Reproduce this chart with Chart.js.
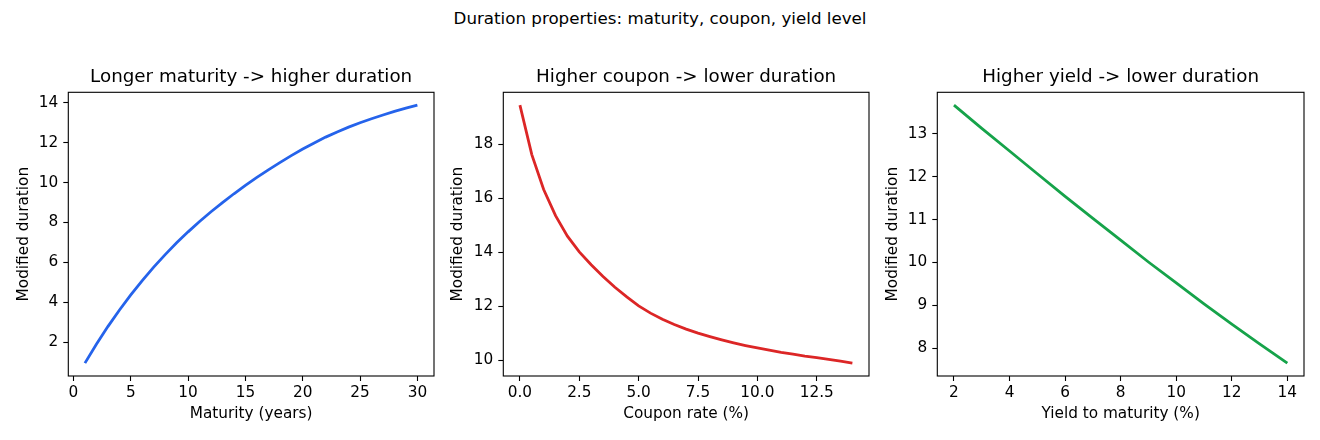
<!DOCTYPE html>
<html>
<head>
<meta charset="utf-8">
<script src="https://cdn.jsdelivr.net/npm/chart.js@4.4.1/dist/chart.umd.min.js"></script>
<style>
  body { margin: 0; background: #fff; width: 1320px; height: 440px; position: relative; overflow: hidden; font-family: "DejaVu Sans", sans-serif; }
  #suptitle { position: absolute; left: 0; top: 8px; width: 1320px; text-align: center; font-size: 16.7px; line-height: 20px; color: #000; }
  .panel { position: absolute; top: 0; }
  .axtitle { position: absolute; top: 66px; text-align: center; font-size: 18.3px; line-height: 20px; color: #000; white-space: nowrap; }
</style>
</head>
<body>
<div id="suptitle">Duration properties: maturity, coupon, yield level</div>
<canvas id="chart1" class="panel" width="444" height="440" style="left:0px"></canvas>
<canvas id="chart2" class="panel" width="439" height="440" style="left:440px"></canvas>
<canvas id="chart3" class="panel" width="438" height="440" style="left:876px"></canvas>
<script>
// values
const maturityYears = [1, 2, 3, 4, 5, 6, 7, 8, 9, 10, 11, 12, 13, 14, 15, 16, 17, 18, 19, 20, 21, 22, 23, 24, 25, 26, 27, 28, 29, 30];
const maturityDuration = [0.95, 1.90, 2.78, 3.60, 4.37, 5.09, 5.76, 6.39, 6.98, 7.53, 8.05, 8.54, 9.00, 9.44, 9.86, 10.26, 10.64, 11.00, 11.35, 11.68, 11.99, 12.28, 12.54, 12.78, 13.00, 13.20, 13.39, 13.57, 13.73, 13.88];

const couponRates = [0, 0.5, 1, 1.5, 2, 2.5, 3, 3.5, 4, 4.5, 5, 5.5, 6, 6.5, 7, 7.5, 8, 8.5, 9, 9.5, 10, 10.5, 11, 11.5, 12, 12.5, 13, 13.5, 14];
const couponDuration = [19.45, 17.62, 16.33, 15.36, 14.60, 14.02, 13.54, 13.11, 12.71, 12.35, 12.02, 11.75, 11.52, 11.33, 11.16, 11.01, 10.88, 10.76, 10.65, 10.55, 10.46, 10.38, 10.30, 10.23, 10.16, 10.10, 10.04, 9.97, 9.90];

const yieldLevels = [2, 3, 4, 5, 6, 7, 8, 9, 10, 11, 12, 13, 14];
const yieldDuration = [13.67, 13.13, 12.60, 12.07, 11.54, 11.03, 10.52, 10.01, 9.52, 9.03, 8.56, 8.10, 7.65];

const fontFamily = "'DejaVu Sans', sans-serif";

// matplotlib-like 5% margins around the data
function paddedRange(arr) {
    const lo = Math.min(...arr), hi = Math.max(...arr);
    const m = (hi - lo) * 0.05;
    return [lo - m, hi + m];
}

const framePlugin = {
    id: 'frame',
    afterDatasetsDraw(chart) {
        const a = chart.chartArea;
        const ctx = chart.ctx;
        ctx.save();
        ctx.strokeStyle = '#000';
        ctx.lineWidth = 1.1;
        ctx.strokeRect(a.left, a.top, a.right - a.left, a.bottom - a.top);
        ctx.restore();
    }
};

function makeChart(id, cfg) {
    const canvas = document.getElementById(id);
    const xr = paddedRange(cfg.xs);
    const yr = paddedRange(cfg.ys);
    const tickFont = { family: fontFamily, size: 15.3 };
    const chart = new Chart(canvas, {
        type: 'line',
        data: {
            datasets: [{
                data: cfg.xs.map((x, i) => ({ x: x, y: cfg.ys[i] })),
                borderColor: cfg.color,
                borderWidth: 2.8,
                pointRadius: 0,
                tension: 0,
                fill: false
            }]
        },
        options: {
            responsive: false,
            animation: false,
            layout: { padding: { left: 0, right: 10, top: 92.3, bottom: 0 } },
            plugins: {
                legend: { display: false },
                tooltip: { enabled: false },
                title: { display: false }
            },
            scales: {
                x: {
                    type: 'linear',
                    min: xr[0],
                    max: xr[1],
                    afterFit: s => { s.height = 64; },
                    border: { display: false },
                    grid: { drawOnChartArea: false, drawTicks: true, tickLength: 5, tickColor: '#000', tickWidth: 1.1 },
                    ticks: {
                        stepSize: cfg.xStep,
                        includeBounds: false,
                        autoSkip: false,
                        maxRotation: 0,
                        padding: 3,
                        color: '#000',
                        font: tickFont,
                        callback: v => cfg.xFmt(v)
                    },
                    title: { display: true, text: cfg.xLabel, color: '#000', font: tickFont, padding: { top: 2, bottom: 16.8 } }
                },
                y: {
                    type: 'linear',
                    min: yr[0],
                    max: yr[1],
                    afterFit: s => { s.width = cfg.yWidth; },
                    border: { display: false },
                    grid: { drawOnChartArea: false, drawTicks: true, tickLength: 5, tickColor: '#000', tickWidth: 1.1 },
                    ticks: {
                        stepSize: cfg.yStep,
                        includeBounds: false,
                        autoSkip: false,
                        padding: 5,
                        color: '#000',
                        font: tickFont,
                        callback: v => String(v)
                    },
                    title: { display: true, text: 'Modified duration', color: '#000', font: tickFont, padding: { top: cfg.yTitlePad, bottom: 0 } }
                }
            }
        },
        plugins: [framePlugin]
    });

    // subplot title centred over the plot area
    const a = chart.chartArea;
    const t = document.createElement('div');
    t.className = 'axtitle';
    t.textContent = cfg.title;
    t.style.left = (canvas.offsetLeft + a.left) + 'px';
    t.style.width = (a.right - a.left) + 'px';
    document.body.appendChild(t);
}

makeChart('chart1', {
    xs: maturityYears, ys: maturityDuration, color: '#2563eb',
    title: 'Longer maturity -> higher duration', xLabel: 'Maturity (years)',
    xStep: 5, yStep: 2, xFmt: v => String(v), yWidth: 68.3, yTitlePad: 14.5
});

makeChart('chart2', {
    xs: couponRates, ys: couponDuration, color: '#dc2626',
    title: 'Higher coupon -> lower duration', xLabel: 'Coupon rate (%)',
    xStep: 2.5, yStep: 2, xFmt: v => v.toFixed(1), yWidth: 63.3, yTitlePad: 8.5
});

makeChart('chart3', {
    xs: yieldLevels, ys: yieldDuration, color: '#16a34a',
    title: 'Higher yield -> lower duration', xLabel: 'Yield to maturity (%)',
    xStep: 2, yStep: 1, xFmt: v => String(v), yWidth: 61.3, yTitlePad: 7.5
});
</script>
</body>
</html>
